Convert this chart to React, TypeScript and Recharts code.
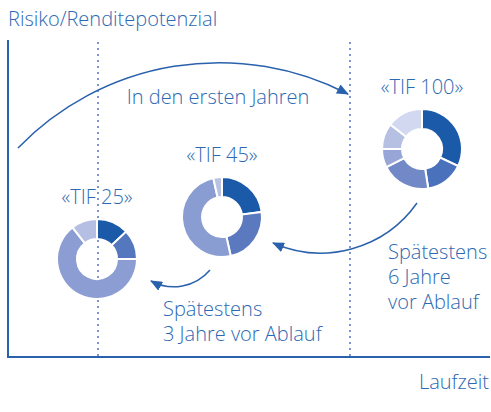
import React from "react";
import { Cell, Pie, PieChart } from "recharts";

const W = 491;
const H = 412;

// Anteile je Fonds (im Uhrzeigersinn ab 12 Uhr), in %
const tif100Shares = [32, 15.5, 20, 7.5, 10.5, 14.5];
const tif45Shares = [23, 23.5, 50, 3.5];
const tif25Shares = [13, 12, 64.5, 10.5];

const tif100Colors = ["#1b5aa9", "#4a71bb", "#7289c7", "#97a6d7", "#b6c0e3", "#d2d8ef"];
const tif45Colors = ["#1b5aa9", "#5a79bf", "#8a9dd2", "#b8c2e4"];
const tif25Colors = ["#1b5aa9", "#5577bd", "#8b9dd2", "#b5bfe3"];

const funds = [
  { label: "«TIF 25»", shares: tif25Shares, colors: tif25Colors, cx: 97, cy: 259 },
  { label: "«TIF 45»", shares: tif45Shares, colors: tif45Colors, cx: 222, cy: 217 },
  { label: "«TIF 100»", shares: tif100Shares, colors: tif100Colors, cx: 422, cy: 149 },
];

const TEXT = "#2d69b2";
const AXIS = "#2a61ac";
const DOTS = "#8093cd";
const FONT = "'Open Sans', sans-serif";
const OUTER = 40;
const INNER = 20;

function Annotations() {
  const t = { fill: TEXT, fontFamily: FONT, fontSize: 20, fontWeight: 350 } as const;
  return (
    <g>
      <defs>
        <marker id="head" viewBox="0 0 12 10" refX="11" refY="5" markerWidth="12" markerHeight="10" markerUnits="userSpaceOnUse" orient="auto">
          <path d="M0,0 L12,5 L0,10 z" fill={AXIS} />
        </marker>
      </defs>
      {/* Achsen */}
      <path d="M8,40 L8,357 L490,357" fill="none" stroke={AXIS} strokeWidth={2} />
      <line x1={98} y1={42} x2={98} y2={356} stroke={DOTS} strokeWidth={2} strokeDasharray="2 4" />
      <line x1={350} y1={42} x2={350} y2={356} stroke={DOTS} strokeWidth={2} strokeDasharray="2 4" />
      <text x={8} y={26} {...t}>Risiko/Renditepotenzial</text>
      <text x={489} y={389} textAnchor="end" {...t}>Laufzeit</text>

      {/* Pfeile */}
      <path d="M18,148 A280,280 0 0 1 348,94" fill="none" stroke={AXIS} strokeWidth={1.5} markerEnd="url(#head)" />
      <path d="M417,203 A118,118 0 0 1 273,243" fill="none" stroke={AXIS} strokeWidth={1.5} markerEnd="url(#head)" />
      <path d="M210,270 A47.6,47.6 0 0 1 151,281" fill="none" stroke={AXIS} strokeWidth={1.5} markerEnd="url(#head)" />

      <text x={218} y={104} textAnchor="middle" {...t}>In den ersten Jahren</text>
      <text x={388} y={259} {...t}>Spätestens</text>
      <text x={388} y={284} {...t}>6 Jahre</text>
      <text x={388} y={309} {...t}>vor Ablauf</text>
      <text x={163} y={316} {...t}>Spätestens</text>
      <text x={163} y={341} {...t}>3 Jahre vor Ablauf</text>

      {funds.map((f) => (
        <text key={f.label} x={f.cx} y={f.cy - 55} textAnchor="middle" {...t}>
          {f.label}
        </text>
      ))}
    </g>
  );
}

export default function App() {
  return (
    <div style={{ position: "absolute", left: 0, top: 0, width: W, height: H, background: "#fff" }}>
      <PieChart width={W} height={H} margin={{ top: 0, right: 0, bottom: 0, left: 0 }}>
        <Annotations />
        {funds.map((f) => (
          <Pie
            key={f.label}
            data={f.shares.map((v, i) => ({ name: `${f.label} ${i + 1}`, value: v }))}
            dataKey="value"
            cx={f.cx}
            cy={f.cy}
            innerRadius={INNER}
            outerRadius={OUTER}
            startAngle={90}
            endAngle={-270}
            stroke="#fff"
            strokeWidth={2}
            isAnimationActive={false}
          >
            {f.shares.map((_, i) => (
              <Cell key={i} fill={f.colors[i]} />
            ))}
          </Pie>
        ))}
      </PieChart>
    </div>
  );
}
